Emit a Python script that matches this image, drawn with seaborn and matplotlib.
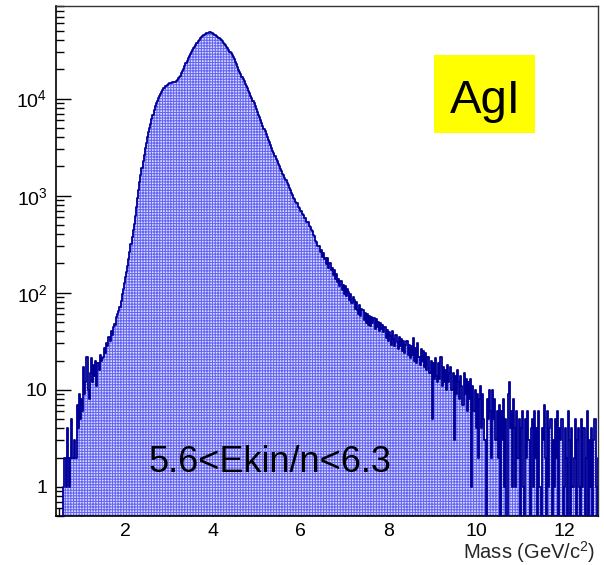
import numpy as np
import pandas as pd
import matplotlib
matplotlib.use("Agg")
import matplotlib.pyplot as plt
from matplotlib.patches import Rectangle
from matplotlib.ticker import FixedLocator, FixedFormatter, LogLocator, MultipleLocator, NullFormatter
import seaborn as sns

# Reconstructed-mass histogram, bins of 0.025 GeV/c^2 from 0.4 to 12.8
bin_low = 0.4
bin_width = 0.025
n_bins = 496

entries = [
    # 0.4 - 0.9
    0, 0, 0, 0, 0, 0, 0, 0, 1, 2, 1, 4, 2, 1, 2, 5, 2, 2, 3, 2,
    # 0.9 - 1.4
    7, 4, 9, 5, 8, 6, 17, 9, 12, 22, 10, 8, 15, 21, 12, 18, 14, 20, 11, 19,
    # 1.4 - 1.9
    16, 23, 20, 21, 22, 27, 24, 30, 28, 35, 32, 40, 37, 44, 48, 46, 56, 60, 65, 72,
    # 1.9 - 2.4
    83, 96, 110, 126, 144, 165, 188, 220, 265, 318, 377, 440, 513, 612, 760, 946, 1156, 1374, 1633, 1923,
    # 2.4 - 2.9
    2259, 2649, 3076, 3508, 4000, 4519, 4989, 5508, 6095, 6823, 7638, 8433, 8954, 9506, 10092, 10715,
    11246, 11749, 12274, 12794,
    # 2.9 - 3.4
    13335, 13583, 13836, 14093, 14355, 14488, 14622, 14723, 14825, 14962, 15311, 15740, 16181, 16634,
    17298, 18239, 19231, 20417, 21777, 23281,
    # 3.4 - 3.9
    24660, 25942, 27227, 28642, 30130, 31477, 32885, 34435, 36058, 37670, 38994, 40458, 41879, 43451,
    44259, 44978, 45709, 46452, 47206, 47643,
    # 3.9 - 4.4
    48084, 48306, 47973, 47424, 46559, 45709, 44875, 44055, 43251, 42462, 41591, 40272, 38994, 37757,
    36559, 35400, 34277, 32885, 31623, 30409,
    # 4.4 - 4.9
    29242, 28119, 26915, 25351, 23878, 22491, 21184, 19953, 18836, 17824, 16866, 15959, 15101, 14289,
    13521, 12764, 12023, 11324, 10666, 10046,
    # 4.9 - 5.4
    9484, 8913, 8337, 7816, 7311, 6855, 6412, 5998, 5623, 5260, 4920, 4613, 4315, 4046, 3784, 3540,
    3319, 3105, 2904, 2735,
    # 5.4 - 5.9
    2590, 2410, 2300, 2140, 2045, 1900, 1815, 1690, 1625, 1510, 1450, 1340, 1290, 1195, 1150, 1065,
    1025, 950, 920, 855,
    # 5.9 - 6.4
    835, 765, 750, 690, 690, 640, 635, 590, 585, 540, 535, 485, 480, 440, 432, 392, 382, 345, 335, 300,
    # 6.4 - 6.9
    305, 262, 275, 236, 258, 224, 230, 198, 226, 180, 200, 172, 178, 152, 170, 140, 156, 128, 140, 118,
    # 6.9 - 7.4
    132, 106, 121, 98, 117, 92, 108, 101, 84, 97, 78, 91, 85, 68, 80, 66, 60, 74, 57, 68,
    # 7.4 - 7.9
    66, 52, 62, 49, 60, 47, 58, 45, 56, 49, 55, 42, 53, 44, 50, 40, 49, 42, 47, 39,
    # 7.9 - 8.4
    44, 34, 41, 32, 39, 36, 29, 40, 33, 28, 37, 31, 26, 35, 28, 33, 25, 32, 24, 29,
    # 8.4 - 8.9
    32, 23, 29, 21, 28, 23, 34, 20, 27, 19, 30, 22, 18, 26, 20, 25, 17, 24, 16, 22,
    # 8.9 - 9.4
    22, 15, 20, 5, 19, 13, 21, 14, 12, 19, 13, 22, 11, 17, 12, 16, 10, 18, 12, 15,
    # 9.4 - 9.9
    17, 10, 15, 3, 14, 9, 16, 12, 8, 14, 11, 7, 15, 9, 13, 6, 12, 8, 13, 1,
    # 9.9 - 10.4
    11, 6, 10, 4, 9, 2, 8, 11, 4, 9, 5, 3, 0, 8, 5, 10, 6, 2, 10, 5,
    # 10.4 - 10.9
    8, 3, 6, 2, 7, 0, 6, 3, 8, 1, 5, 0, 9, 12, 4, 6, 1, 8, 4, 1,
    # 10.9 - 11.4
    6, 2, 5, 0, 4, 6, 1, 0, 5, 2, 6, 3, 0, 4, 5, 1, 6, 2, 4, 0,
    # 11.4 - 11.9
    6, 1, 0, 4, 3, 7, 2, 0, 6, 1, 4, 5, 0, 3, 1, 5, 2, 6, 0, 4,
    # 11.9 - 12.4
    3, 5, 0, 1, 4, 2, 0, 6, 3, 0, 4, 1, 2, 5, 0, 3, 4, 1, 0, 5,
    # 12.4 - 12.8
    1, 4, 0, 2, 6, 0, 3, 1, 4, 0, 3, 5, 1, 0, 2, 4,
]

y_tick_values = [1, 10, 100, 1000, 10000]
y_tick_labels = ["1", "10", r"$\mathregular{10^{2}}$", r"$\mathregular{10^{3}}$", r"$\mathregular{10^{4}}$"]
x_tick_values = [2, 4, 6, 8, 10, 12]
x_tick_labels = ["2", "4", "6", "8", "10", "12"]

detector_label = "AgI"
range_label = "5.6<Ekin/n<6.3"
x_title = r"Mass (GeV/c$\mathregular{^{2}}$)"

edges = [round(bin_low + bin_width * i, 4) for i in range(n_bins + 1)]
centers = [0.5 * (edges[i] + edges[i + 1]) for i in range(n_bins)]
df = pd.DataFrame({"mass": centers, "entries": entries})

sns.set_style("ticks")
plt.rcParams["font.family"] = ["Liberation Sans", "DejaVu Sans"]
plt.rcParams["mathtext.fontset"] = "custom"
plt.rcParams["mathtext.rm"] = "Liberation Sans"
plt.rcParams["mathtext.it"] = "Liberation Sans:italic"
plt.rcParams["hatch.linewidth"] = 0.75

W, H = 604, 565
fig = plt.figure(figsize=(W / 100, H / 100), dpi=100)
fig.patch.set_facecolor("white")
ax_l, ax_r, ax_t, ax_b = 55.7, 597.7, 5.7, 516.0
ax = fig.add_axes([ax_l / W, 1 - ax_b / H, (ax_r - ax_l) / W, (ax_b - ax_t) / H])
ax.set_facecolor("white")

line_color = "#000096"

# filled area with a fine blue grid texture, then the step outline on top
sns.histplot(data=df, x="mass", weights="entries", bins=edges, element="step",
             fill=True, color="#dcdcfa", alpha=1.0, linewidth=0, ax=ax, zorder=1)
fill_poly = ax.collections[0]
fill_poly.set_facecolor("#dedefb")
fill_poly.set_edgecolor("#6464f5")
fill_poly.set_linewidth(0)
fill_poly.set_hatch("++++++")

sns.histplot(data=df, x="mass", weights="entries", bins=edges, element="step",
             fill=False, color=line_color, linewidth=1.3, ax=ax, zorder=3)

ax.set_yscale("log")
ax.set_xlim(0.425, 12.75)
ax.set_ylim(0.5, 9.07e4)
ax.set_xlabel("")
ax.set_ylabel("")

ax.xaxis.set_major_locator(FixedLocator(x_tick_values))
ax.xaxis.set_major_formatter(FixedFormatter(x_tick_labels))
ax.xaxis.set_minor_locator(MultipleLocator(0.5))
ax.yaxis.set_major_locator(FixedLocator(y_tick_values))
ax.yaxis.set_major_formatter(FixedFormatter(y_tick_labels))
ax.yaxis.set_minor_locator(LogLocator(base=10, subs=np.arange(2, 10)))
ax.yaxis.set_minor_formatter(NullFormatter())

ax.tick_params(which="both", direction="in", top=False, right=False, colors="black",
               labelsize=14, width=1.0)
ax.tick_params(which="major", length=11)
ax.tick_params(which="minor", length=6)
ax.tick_params(axis="x", which="major", pad=5)
ax.tick_params(axis="y", which="major", pad=6)

for side in ["left", "bottom"]:
    ax.spines[side].set_linewidth(1.2)
    ax.spines[side].set_color("black")
for side in ["top", "right"]:
    ax.spines[side].set_linewidth(1.0)
    ax.spines[side].set_color("#333333")
    ax.spines[side].set_visible(True)

fig.text(595 / W, 1 - 552 / H, x_title, ha="right", va="center", fontsize=14.5)

# detector tag
fig.patches.append(Rectangle((434 / W, 1 - 133 / H), (535 - 434) / W, (133 - 55) / H,
                             transform=fig.transFigure, facecolor="#ffff00",
                             edgecolor="none", zorder=5))
fig.text(485 / W, 1 - 113 / H, detector_label, ha="center", va="baseline",
         fontsize=34, color="black", zorder=6)

fig.text(148 / W, 1 - 472 / H, range_label, ha="left", va="baseline",
         fontsize=26, color="black", zorder=6)

fig.savefig("out.png", dpi=100)
